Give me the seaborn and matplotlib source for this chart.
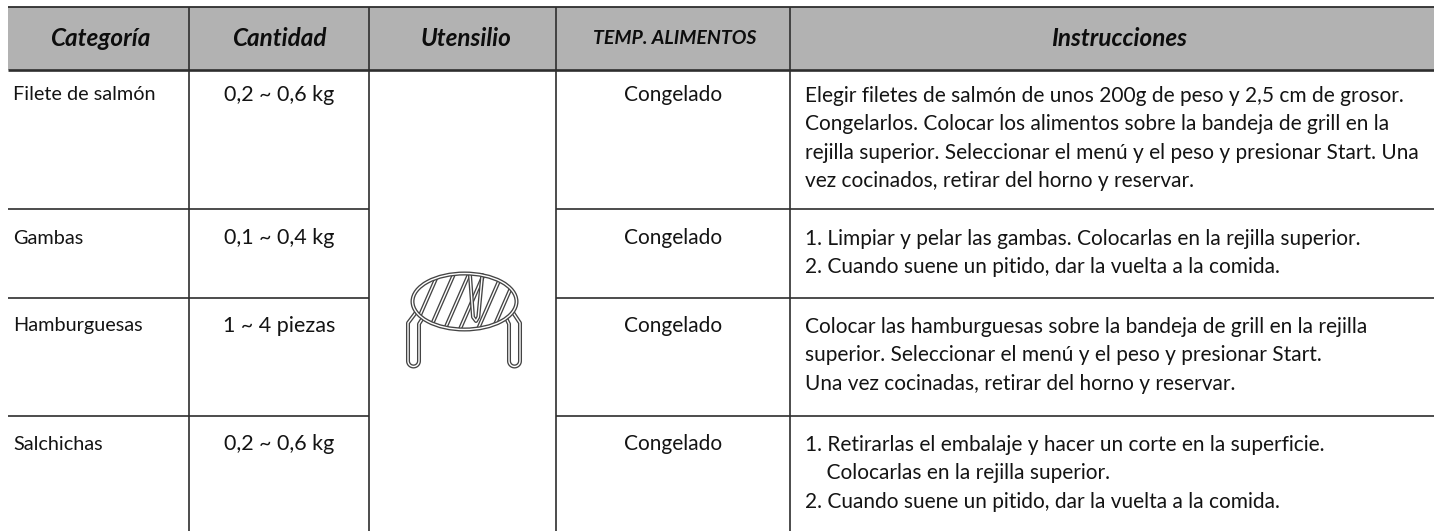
import numpy as np
import matplotlib
matplotlib.use('Agg')
from matplotlib import pyplot as plt
from matplotlib.patches import Ellipse
import seaborn as sns

# table content
headers = ['Categoría', 'Cantidad', 'Utensilio', 'TEMP. ALIMENTOS', 'Instrucciones']
categorias = ['Filete de salmón', 'Gambas', 'Hamburguesas', 'Salchichas']
cantidades = ['0,2 ~ 0,6 kg', '0,1 ~ 0,4 kg', '1 ~ 4 piezas', '0,2 ~ 0,6 kg']
temperaturas = ['Congelado', 'Congelado', 'Congelado', 'Congelado']
instrucciones = [
    ['Elegir filetes de salmón de unos 200g de peso y 2,5 cm de grosor.',
     'Congelarlos. Colocar los alimentos sobre la bandeja de grill en la',
     'rejilla superior. Seleccionar el menú y el peso y presionar Start. Una',
     'vez cocinados, retirar del horno y reservar.'],
    ['1. Limpiar y pelar las gambas. Colocarlas en la rejilla superior.',
     '2. Cuando suene un pitido, dar la vuelta a la comida.'],
    ['Colocar las hamburguesas sobre la bandeja de grill en la rejilla',
     'superior. Seleccionar el menú y el peso y presionar Start.',
     'Una vez cocinadas, retirar del horno y reservar.'],
    ['1. Retirarlas el embalaje y hacer un corte en la superficie.',
     '    Colocarlas en la rejilla superior.',
     '2. Cuando suene un pitido, dar la vuelta a la comida.'],
]

# grid, in pixels of the picture
col_edges = [8, 189, 369, 556, 790, 1434]
row_edges = [70, 209, 298, 416, 531]
header_x = [100, 279, 466, 675, 1119]
header_top = 7
first_line = [96, 239, 327, 445]
line_step = 28.4

sns.set_theme(style='white')
plt.rcParams['font.family'] = ['Lato', 'DejaVu Sans']

fig = plt.figure(figsize=(14.34, 5.31), dpi=100)
ax = fig.add_axes([0, 0, 1, 1])
ax.set_xlim(0, 1434)
ax.set_ylim(531, 0)
ax.axis('off')

line_col = '#2e2e2e'
text_col = '#141414'

# header band
ax.fill_between([col_edges[0], col_edges[-1]], header_top, row_edges[0], color='#b2b2b2', lw=0, zorder=1)
ax.hlines(header_top, col_edges[0], col_edges[-1], color=line_col, lw=1.3, zorder=3)
ax.hlines(row_edges[0], col_edges[0], col_edges[-1], color=line_col, lw=1.9, zorder=3)

# grid lines, the utensil column stays open
ax.vlines(col_edges[1:5], header_top, row_edges[-1], color=line_col, lw=1.2, zorder=3)
for y in row_edges[1:-1]:
    ax.hlines(y, col_edges[0], col_edges[2], color=line_col, lw=1.2, zorder=3)
    ax.hlines(y, col_edges[3], col_edges[-1], color=line_col, lw=1.2, zorder=3)

# header text
for h, cx in zip(headers, header_x):
    size = 14 if h.isupper() else 17.5
    ax.text(cx, 38, h, ha='center', va='center', fontsize=size, fontweight='bold',
            fontstyle='italic', color='#0d0d0d', zorder=4)

# body text
for i in range(4):
    ax.text(13, first_line[i] - 1, categorias[i], ha='left', va='center', fontsize=14.3, color=text_col)
    ax.text(279, first_line[i] - 1, cantidades[i], ha='center', va='center', fontsize=15.5, color=text_col)
    ax.text(673, first_line[i] - 1, temperaturas[i], ha='center', va='center', fontsize=15, color=text_col)
    for j, line in enumerate(instrucciones[i]):
        ax.text(805, first_line[i] + j * line_step, line, ha='left', va='center', fontsize=15, color=text_col)


def wire(xs, ys, z=5, clip=None):
    # double wire: dark stroke with a white core
    a, = ax.plot(xs, ys, color='#444444', lw=2.9, zorder=z, solid_capstyle='round', solid_joinstyle='round')
    b, = ax.plot(xs, ys, color='white', lw=1.0, zorder=z + 0.1, solid_capstyle='round', solid_joinstyle='round')
    if clip is not None:
        a.set_clip_path(clip)
        b.set_clip_path(clip)


def leg(x_out, x_in, top_out, top_in):
    # U shaped wire leg with a round foot
    t = np.linspace(np.pi, 0, 15)
    mid, rad = (x_out + x_in) / 2, abs(x_in - x_out) / 2
    foot_x = mid + np.sign(x_in - x_out) * rad * np.cos(t)
    foot_y = 361 + rad * np.sin(t)
    xs = np.r_[top_out[0], x_out, foot_x, x_in, top_in[0]]
    ys = np.r_[top_out[1], top_out[1] + 12, foot_y, top_in[1] + 8, top_in[1]]
    wire(xs, ys)


# rack icon: legs, then disc, stripes and hairpin
leg(408, 419, (417, 311), (424, 316))
leg(520, 509, (512, 311), (505, 316))
cx, cy = 464.5, 301.5
disc = Ellipse((cx, cy), 104, 56, fc='white', ec='none', zorder=6)
ax.add_patch(disc)
clip = Ellipse((cx, cy), 104, 56, transform=ax.transData, fc='none', ec='none')
ax.add_patch(clip)
for x0 in [426, 442, 457, 472, 490, 505]:
    wire([x0 - 14, x0 + 14], [cy + 32, cy - 32], z=7, clip=clip)
wire([470, 473, 476, 478.3, 482.3], [275, 317, 321, 317, 275], z=8)
rim_dark = Ellipse((cx, cy), 104, 56, fc='none', ec='#444444', lw=2.9, zorder=9)
rim_light = Ellipse((cx, cy), 104, 56, fc='none', ec='white', lw=1.0, zorder=9.1)
ax.add_patch(rim_dark)
ax.add_patch(rim_light)

fig.savefig('out.png', dpi=100)
